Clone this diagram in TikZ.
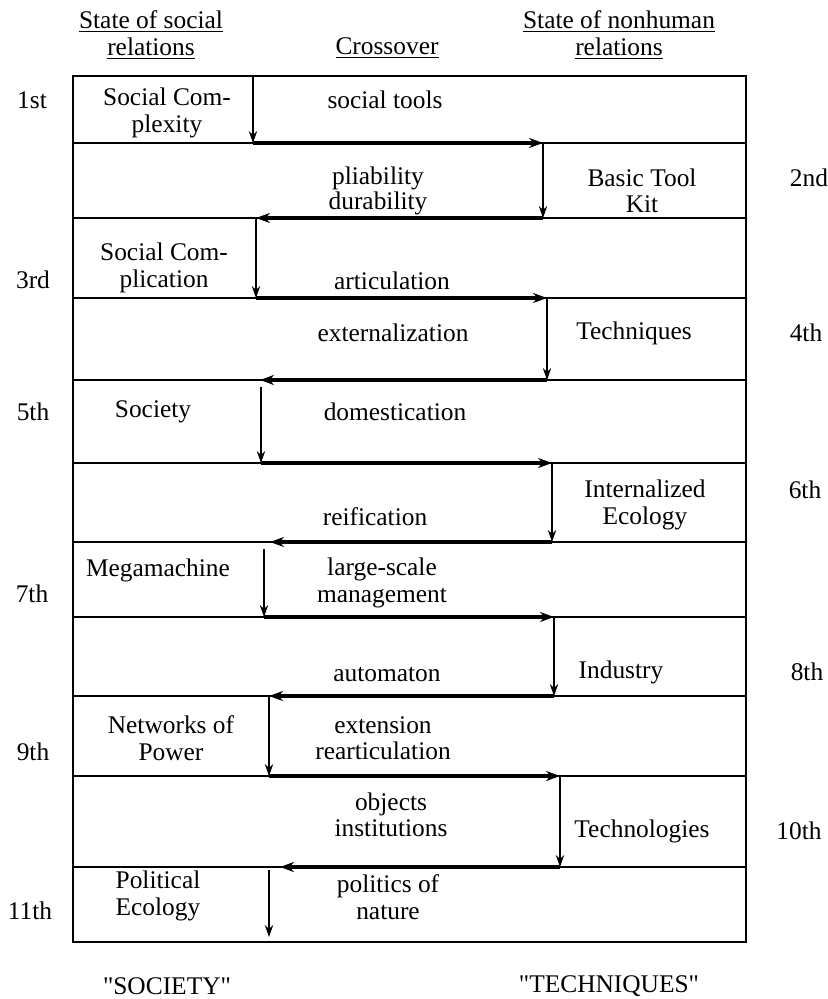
\documentclass[tikz,border=0pt]{standalone}
\usepackage{fontspec}
\setmainfont{Liberation Serif}
\newfontfamily\qfont{Liberation Serif}[Ligatures=TeXOff]
\usetikzlibrary{arrows.meta}
\begin{document}
\begin{tikzpicture}[x=0.5pt,y=-0.5pt,
  txt/.style={inner sep=0pt,align=center,font=\fontsize{12.7}{13.2}\selectfont},
  tight/.style={txt,font=\fontsize{12.7}{11.2}\selectfont},
  frame/.style={line width=1.2pt},
  rule/.style={line width=0.9pt},
  cross/.style={line width=1.7pt,-{Stealth[length=7pt,width=5pt]}},
  down/.style={line width=0.6pt,-{Stealth[length=6pt,width=4.2pt]}}]
\useasboundingbox (0,0) rectangle (828,999);
% headers
\node[txt] (hsoc) at (151,35) {\underline{State of social}\\\underline{relations}};
\node[txt] (hcross) at (387,48) {\underline{Crossover}};
\node[txt] (hnon) at (619,35) {\underline{State of nonhuman}\\\underline{relations}};
% frame and rules
\coordinate (tl) at (73,76);
\coordinate (br) at (746,942);
\draw[frame] (tl) rectangle (br);
\foreach \yy in {143,218,298,380,463,542,617,696,776,867}
  \draw[rule] (73,\yy) -- (746,\yy);
% zigzag points
\coordinate (v1t) at (253,76);  \coordinate (v1b) at (253,143);
\coordinate (v2t) at (543,143); \coordinate (v2b) at (543,218);
\coordinate (v3t) at (256,218); \coordinate (v3b) at (256,298);
\coordinate (v4t) at (547,298); \coordinate (v4b) at (547,380);
\coordinate (v5t) at (261,387); \coordinate (v5b) at (261,463);
\coordinate (v6t) at (552,463); \coordinate (v6b) at (552,542);
\coordinate (v7t) at (264,549); \coordinate (v7b) at (264,617);
\coordinate (v8t) at (554,617); \coordinate (v8b) at (554,696);
\coordinate (v9t) at (269,696); \coordinate (v9b) at (269,776);
\coordinate (v10t) at (560,776); \coordinate (v10b) at (560,867);
\coordinate (v11t) at (269,870); \coordinate (v11b) at (269,937);
\coordinate (h4e) at (260,380);
\coordinate (h6e) at (270,542);
\coordinate (h10e) at (280,867);
% crossover arrows
\draw[cross] (v1b) -- (v2t);
\draw[cross] (v2b) -- (v3t);
\draw[cross] (v3b) -- (v4t);
\draw[cross] (v4b) -- (h4e);
\draw[cross] (v5b) -- (v6t);
\draw[cross] (v6b) -- (h6e);
\draw[cross] (v7b) -- (v8t);
\draw[cross] (v8b) -- (v9t);
\draw[cross] (v9b) -- (v10t);
\draw[cross] (v10b) -- (h10e);
% vertical arrows
\foreach \i in {1,...,11} \draw[down] (v\i t) -- (v\i b);
% ordinals
\node[txt] (o1) at (32,100) {1st};
\node[txt] (o2) at (809,178) {2nd};
\node[txt] (o3) at (33,280) {3rd};
\node[txt] (o4) at (806,333) {4th};
\node[txt] (o5) at (33,412) {5th};
\node[txt] (o6) at (805,490) {6th};
\node[txt] (o7) at (32,594) {7th};
\node[txt] (o8) at (807,672) {8th};
\node[txt] (o9) at (33,752) {9th};
\node[txt] (o10) at (799,831) {10th};
\node[txt] (o11) at (30,911) {11th};
% social states
\node[txt] (s1) at (167,113) {Social Com-\\plexity};
\node[txt] (s3) at (164,268) {Social Com-\\plication};
\node[txt] (s5) at (153,412) {Society};
\node[txt] (s7) at (158,570) {Megamachine};
\node[txt] (s9) at (171,738) {Networks of\\Power};
\node[txt] (s11) at (158,896) {Political\\Ecology};
% crossovers
\node[txt] (c1) at (385,100) {social tools};
\node[tight] (c2) at (378,191) {pliability\\durability};
\node[txt] (c3) at (392,281) {articulation};
\node[txt] (c4) at (393,333) {externalization};
\node[txt] (c5) at (395,412) {domestication};
\node[txt] (c6) at (375,517) {reification};
\node[txt] (c7) at (382,583) {large-scale\\management};
\node[txt] (c8) at (387,674) {automaton};
\node[txt] (c9) at (383,738) {extension\\rearticulation};
\node[txt] (c10) at (391,815) {objects\\institutions};
\node[txt] (c11) at (388,897) {politics of\\nature};
% nonhuman states
\node[txt] (n2) at (642,191) {Basic Tool\\Kit};
\node[txt] (n4) at (634,333) {Techniques};
\node[txt] (n6) at (645,505) {Internalized\\Ecology};
\node[txt] (n8) at (621,672) {Industry};
\node[txt] (n10) at (642,831) {Technologies};
% footers
\node[txt] (fsoc) at (167,986) {\qfont "SOCIETY"};
\node[txt] (ftech) at (609,986) {\qfont "TECHNIQUES"};
\end{tikzpicture}
\end{document}
